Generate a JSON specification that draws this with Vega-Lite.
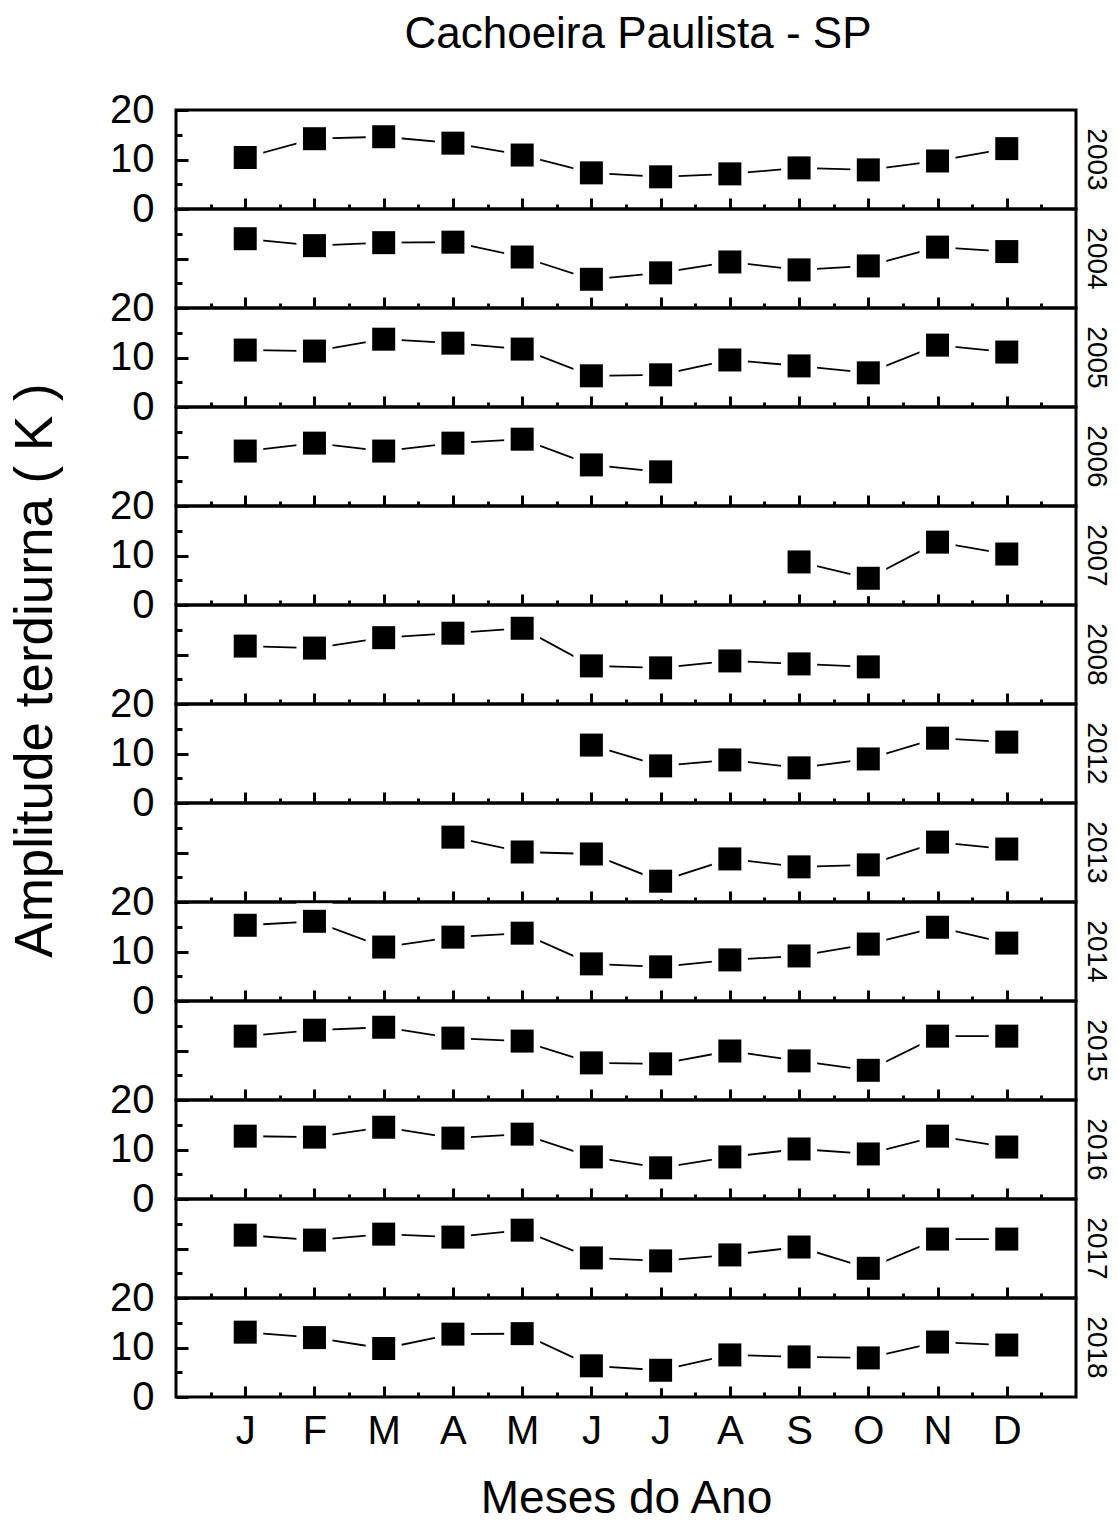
{
  "$schema": "https://vega.github.io/schema/vega-lite/v6.json",
  "padding": {"left": 7, "top": 12, "right": 5, "bottom": 0},
  "background": "white",
  "title": {"text": "Cachoeira Paulista - SP", "fontSize": 44, "fontWeight": "normal", "font": "Liberation Sans", "color": "black", "anchor": "middle", "frame": "group", "dx": 12, "offset": 32},
  "config": {
    "font": "Liberation Sans",
    "view": {"stroke": "black", "strokeWidth": 3},
    "axis": {"domain": false, "grid": false, "tickColor": "black", "labelColor": "black", "titleColor": "black", "zindex": 1, "labelFont": "Liberation Sans", "titleFont": "Liberation Sans", "titleFontWeight": "normal"},
    "title": {"fontWeight": "normal", "color": "black", "font": "Liberation Sans"}
  },
  "data": {"values": [
    {"year": "2003", "month": 1, "value": 10.4}, {"year": "2003", "month": 2, "value": 14.2}, {"year": "2003", "month": 3, "value": 14.6}, {"year": "2003", "month": 4, "value": 13.3}, {"year": "2003", "month": 5, "value": 10.9}, {"year": "2003", "month": 6, "value": 7.3}, {"year": "2003", "month": 7, "value": 6.5}, {"year": "2003", "month": 8, "value": 7.1}, {"year": "2003", "month": 9, "value": 8.3}, {"year": "2003", "month": 10, "value": 7.9}, {"year": "2003", "month": 11, "value": 9.7}, {"year": "2003", "month": 12, "value": 12.2},
    {"year": "2004", "month": 1, "value": 14.0}, {"year": "2004", "month": 2, "value": 12.6}, {"year": "2004", "month": 3, "value": 13.2}, {"year": "2004", "month": 4, "value": 13.3}, {"year": "2004", "month": 5, "value": 10.3}, {"year": "2004", "month": 6, "value": 5.8}, {"year": "2004", "month": 7, "value": 7.1}, {"year": "2004", "month": 8, "value": 9.3}, {"year": "2004", "month": 9, "value": 7.7}, {"year": "2004", "month": 10, "value": 8.5}, {"year": "2004", "month": 11, "value": 12.3}, {"year": "2004", "month": 12, "value": 11.4},
    {"year": "2005", "month": 1, "value": 11.5}, {"year": "2005", "month": 2, "value": 11.3}, {"year": "2005", "month": 3, "value": 13.7}, {"year": "2005", "month": 4, "value": 12.9}, {"year": "2005", "month": 5, "value": 11.7}, {"year": "2005", "month": 6, "value": 6.3}, {"year": "2005", "month": 7, "value": 6.5}, {"year": "2005", "month": 8, "value": 9.5}, {"year": "2005", "month": 9, "value": 8.3}, {"year": "2005", "month": 10, "value": 6.9}, {"year": "2005", "month": 11, "value": 12.5}, {"year": "2005", "month": 12, "value": 11.1},
    {"year": "2006", "month": 1, "value": 11.1}, {"year": "2006", "month": 2, "value": 12.7}, {"year": "2006", "month": 3, "value": 11.1}, {"year": "2006", "month": 4, "value": 12.7}, {"year": "2006", "month": 5, "value": 13.5}, {"year": "2006", "month": 6, "value": 8.3}, {"year": "2006", "month": 7, "value": 6.9},
    {"year": "2007", "month": 9, "value": 8.7}, {"year": "2007", "month": 10, "value": 5.4}, {"year": "2007", "month": 11, "value": 12.7}, {"year": "2007", "month": 12, "value": 10.3},
    {"year": "2008", "month": 1, "value": 11.7}, {"year": "2008", "month": 2, "value": 11.3}, {"year": "2008", "month": 3, "value": 13.4}, {"year": "2008", "month": 4, "value": 14.3}, {"year": "2008", "month": 5, "value": 15.3}, {"year": "2008", "month": 6, "value": 7.7}, {"year": "2008", "month": 7, "value": 7.3}, {"year": "2008", "month": 8, "value": 8.7}, {"year": "2008", "month": 9, "value": 8.1}, {"year": "2008", "month": 10, "value": 7.5},
    {"year": "2012", "month": 6, "value": 11.7}, {"year": "2012", "month": 7, "value": 7.5}, {"year": "2012", "month": 8, "value": 8.7}, {"year": "2012", "month": 9, "value": 7.1}, {"year": "2012", "month": 10, "value": 8.9}, {"year": "2012", "month": 11, "value": 13.1}, {"year": "2012", "month": 12, "value": 12.3},
    {"year": "2013", "month": 4, "value": 13.1}, {"year": "2013", "month": 5, "value": 10.1}, {"year": "2013", "month": 6, "value": 9.7}, {"year": "2013", "month": 7, "value": 4.2}, {"year": "2013", "month": 8, "value": 8.7}, {"year": "2013", "month": 9, "value": 7.1}, {"year": "2013", "month": 10, "value": 7.5}, {"year": "2013", "month": 11, "value": 12.1}, {"year": "2013", "month": 12, "value": 10.7},
    {"year": "2014", "month": 1, "value": 15.3}, {"year": "2014", "month": 2, "value": 16.1}, {"year": "2014", "month": 3, "value": 10.9}, {"year": "2014", "month": 4, "value": 12.9}, {"year": "2014", "month": 5, "value": 13.7}, {"year": "2014", "month": 6, "value": 7.5}, {"year": "2014", "month": 7, "value": 6.9}, {"year": "2014", "month": 8, "value": 8.3}, {"year": "2014", "month": 9, "value": 9.1}, {"year": "2014", "month": 10, "value": 11.5}, {"year": "2014", "month": 11, "value": 14.9}, {"year": "2014", "month": 12, "value": 11.7},
    {"year": "2015", "month": 1, "value": 12.9}, {"year": "2015", "month": 2, "value": 14.1}, {"year": "2015", "month": 3, "value": 14.7}, {"year": "2015", "month": 4, "value": 12.5}, {"year": "2015", "month": 5, "value": 11.9}, {"year": "2015", "month": 6, "value": 7.5}, {"year": "2015", "month": 7, "value": 7.3}, {"year": "2015", "month": 8, "value": 9.9}, {"year": "2015", "month": 9, "value": 7.9}, {"year": "2015", "month": 10, "value": 6.0}, {"year": "2015", "month": 11, "value": 12.9}, {"year": "2015", "month": 12, "value": 12.9},
    {"year": "2016", "month": 1, "value": 12.7}, {"year": "2016", "month": 2, "value": 12.5}, {"year": "2016", "month": 3, "value": 14.5}, {"year": "2016", "month": 4, "value": 12.3}, {"year": "2016", "month": 5, "value": 13.1}, {"year": "2016", "month": 6, "value": 8.5}, {"year": "2016", "month": 7, "value": 6.3}, {"year": "2016", "month": 8, "value": 8.5}, {"year": "2016", "month": 9, "value": 10.1}, {"year": "2016", "month": 10, "value": 9.1}, {"year": "2016", "month": 11, "value": 12.7}, {"year": "2016", "month": 12, "value": 10.5},
    {"year": "2017", "month": 1, "value": 12.7}, {"year": "2017", "month": 2, "value": 11.7}, {"year": "2017", "month": 3, "value": 12.9}, {"year": "2017", "month": 4, "value": 12.3}, {"year": "2017", "month": 5, "value": 13.7}, {"year": "2017", "month": 6, "value": 8.1}, {"year": "2017", "month": 7, "value": 7.5}, {"year": "2017", "month": 8, "value": 8.7}, {"year": "2017", "month": 9, "value": 10.3}, {"year": "2017", "month": 10, "value": 6.0}, {"year": "2017", "month": 11, "value": 11.9}, {"year": "2017", "month": 12, "value": 11.9},
    {"year": "2018", "month": 1, "value": 13.1}, {"year": "2018", "month": 2, "value": 12.0}, {"year": "2018", "month": 3, "value": 9.8}, {"year": "2018", "month": 4, "value": 12.7}, {"year": "2018", "month": 5, "value": 12.8}, {"year": "2018", "month": 6, "value": 6.3}, {"year": "2018", "month": 7, "value": 5.4}, {"year": "2018", "month": 8, "value": 8.5}, {"year": "2018", "month": 9, "value": 8.1}, {"year": "2018", "month": 10, "value": 7.9}, {"year": "2018", "month": 11, "value": 11.1}, {"year": "2018", "month": 12, "value": 10.5}
  ]},
  "spacing": 0,
  "bounds": "flush",
  "vconcat": [
    {"width": 900, "height": 99, "title": {"text": "2003", "orient": "right", "fontSize": 28, "offset": 6, "anchor": "middle"}, "transform": [{"filter": "datum.year === '2003'"}],
     "encoding": {"x": {"field": "month", "type": "quantitative", "scale": {"domain": [0, 13], "nice": false}, "axis": {"title": null, "values": [0.5, 1, 1.5, 2, 2.5, 3, 3.5, 4, 4.5, 5, 5.5, 6, 6.5, 7, 7.5, 8, 8.5, 9, 9.5, 10, 10.5, 11, 11.5, 12, 12.5], "labels": false, "tickSize": {"condition": {"test": "datum.value % 1 === 0", "value": -11}, "value": -5}, "tickWidth": 3}},
                  "y": {"field": "value", "type": "quantitative", "scale": {"domain": [0, 20], "nice": false}, "axis": {"title": null, "values": [0, 5, 10, 15, 20], "tickSize": {"condition": {"test": "datum.value % 10 === 0", "value": -12}, "value": -6}, "tickWidth": 3, "labels": true, "labelExpr": "datum.value % 10 === 0 ? datum.label : ''", "labelFontSize": 40, "labelPadding": 34, "labelFlush": false, "labelBound": false, "labelOverlap": false}}},
     "layer": [{"mark": {"type": "line", "color": "black", "strokeWidth": 1.8}}, {"mark": {"type": "square", "color": "white", "size": 1296, "opacity": 1}}, {"mark": {"type": "square", "color": "black", "size": 529, "opacity": 1}}]},
    {"width": 900, "height": 99, "title": {"text": "2004", "orient": "right", "fontSize": 28, "offset": 6, "anchor": "middle"}, "transform": [{"filter": "datum.year === '2004'"}],
     "encoding": {"x": {"field": "month", "type": "quantitative", "scale": {"domain": [0, 13], "nice": false}, "axis": {"title": null, "values": [0.5, 1, 1.5, 2, 2.5, 3, 3.5, 4, 4.5, 5, 5.5, 6, 6.5, 7, 7.5, 8, 8.5, 9, 9.5, 10, 10.5, 11, 11.5, 12, 12.5], "labels": false, "tickSize": {"condition": {"test": "datum.value % 1 === 0", "value": -11}, "value": -5}, "tickWidth": 3}},
                  "y": {"field": "value", "type": "quantitative", "scale": {"domain": [0, 20], "nice": false}, "axis": {"title": null, "values": [0, 5, 10, 15, 20], "tickSize": {"condition": {"test": "datum.value % 10 === 0", "value": -12}, "value": -6}, "tickWidth": 3, "labels": false}}},
     "layer": [{"mark": {"type": "line", "color": "black", "strokeWidth": 1.8}}, {"mark": {"type": "square", "color": "white", "size": 1296, "opacity": 1}}, {"mark": {"type": "square", "color": "black", "size": 529, "opacity": 1}}]},
    {"width": 900, "height": 99, "title": {"text": "2005", "orient": "right", "fontSize": 28, "offset": 6, "anchor": "middle"}, "transform": [{"filter": "datum.year === '2005'"}],
     "encoding": {"x": {"field": "month", "type": "quantitative", "scale": {"domain": [0, 13], "nice": false}, "axis": {"title": null, "values": [0.5, 1, 1.5, 2, 2.5, 3, 3.5, 4, 4.5, 5, 5.5, 6, 6.5, 7, 7.5, 8, 8.5, 9, 9.5, 10, 10.5, 11, 11.5, 12, 12.5], "labels": false, "tickSize": {"condition": {"test": "datum.value % 1 === 0", "value": -11}, "value": -5}, "tickWidth": 3}},
                  "y": {"field": "value", "type": "quantitative", "scale": {"domain": [0, 20], "nice": false}, "axis": {"title": null, "values": [0, 5, 10, 15, 20], "tickSize": {"condition": {"test": "datum.value % 10 === 0", "value": -12}, "value": -6}, "tickWidth": 3, "labels": true, "labelExpr": "datum.value % 10 === 0 ? datum.label : ''", "labelFontSize": 40, "labelPadding": 34, "labelFlush": false, "labelBound": false, "labelOverlap": false}}},
     "layer": [{"mark": {"type": "line", "color": "black", "strokeWidth": 1.8}}, {"mark": {"type": "square", "color": "white", "size": 1296, "opacity": 1}}, {"mark": {"type": "square", "color": "black", "size": 529, "opacity": 1}}]},
    {"width": 900, "height": 99, "title": {"text": "2006", "orient": "right", "fontSize": 28, "offset": 6, "anchor": "middle"}, "transform": [{"filter": "datum.year === '2006'"}],
     "encoding": {"x": {"field": "month", "type": "quantitative", "scale": {"domain": [0, 13], "nice": false}, "axis": {"title": null, "values": [0.5, 1, 1.5, 2, 2.5, 3, 3.5, 4, 4.5, 5, 5.5, 6, 6.5, 7, 7.5, 8, 8.5, 9, 9.5, 10, 10.5, 11, 11.5, 12, 12.5], "labels": false, "tickSize": {"condition": {"test": "datum.value % 1 === 0", "value": -11}, "value": -5}, "tickWidth": 3}},
                  "y": {"field": "value", "type": "quantitative", "scale": {"domain": [0, 20], "nice": false}, "axis": {"title": null, "values": [0, 5, 10, 15, 20], "tickSize": {"condition": {"test": "datum.value % 10 === 0", "value": -12}, "value": -6}, "tickWidth": 3, "labels": false}}},
     "layer": [{"mark": {"type": "line", "color": "black", "strokeWidth": 1.8}}, {"mark": {"type": "square", "color": "white", "size": 1296, "opacity": 1}}, {"mark": {"type": "square", "color": "black", "size": 529, "opacity": 1}}]},
    {"width": 900, "height": 99, "title": {"text": "2007", "orient": "right", "fontSize": 28, "offset": 6, "anchor": "middle"}, "transform": [{"filter": "datum.year === '2007'"}],
     "encoding": {"x": {"field": "month", "type": "quantitative", "scale": {"domain": [0, 13], "nice": false}, "axis": {"title": null, "values": [0.5, 1, 1.5, 2, 2.5, 3, 3.5, 4, 4.5, 5, 5.5, 6, 6.5, 7, 7.5, 8, 8.5, 9, 9.5, 10, 10.5, 11, 11.5, 12, 12.5], "labels": false, "tickSize": {"condition": {"test": "datum.value % 1 === 0", "value": -11}, "value": -5}, "tickWidth": 3}},
                  "y": {"field": "value", "type": "quantitative", "scale": {"domain": [0, 20], "nice": false}, "axis": {"title": null, "values": [0, 5, 10, 15, 20], "tickSize": {"condition": {"test": "datum.value % 10 === 0", "value": -12}, "value": -6}, "tickWidth": 3, "labels": true, "labelExpr": "datum.value % 10 === 0 ? datum.label : ''", "labelFontSize": 40, "labelPadding": 34, "labelFlush": false, "labelBound": false, "labelOverlap": false}}},
     "layer": [{"mark": {"type": "line", "color": "black", "strokeWidth": 1.8}}, {"mark": {"type": "square", "color": "white", "size": 1296, "opacity": 1}}, {"mark": {"type": "square", "color": "black", "size": 529, "opacity": 1}}]},
    {"width": 900, "height": 99, "title": {"text": "2008", "orient": "right", "fontSize": 28, "offset": 6, "anchor": "middle"}, "transform": [{"filter": "datum.year === '2008'"}],
     "encoding": {"x": {"field": "month", "type": "quantitative", "scale": {"domain": [0, 13], "nice": false}, "axis": {"title": null, "values": [0.5, 1, 1.5, 2, 2.5, 3, 3.5, 4, 4.5, 5, 5.5, 6, 6.5, 7, 7.5, 8, 8.5, 9, 9.5, 10, 10.5, 11, 11.5, 12, 12.5], "labels": false, "tickSize": {"condition": {"test": "datum.value % 1 === 0", "value": -11}, "value": -5}, "tickWidth": 3}},
                  "y": {"field": "value", "type": "quantitative", "scale": {"domain": [0, 20], "nice": false}, "axis": {"title": "Amplitude terdiurna ( K )", "titleFontSize": 53, "titleX": -125, "titleY": 65, "titleAngle": -90, "titleAlign": "center", "titleBaseline": "alphabetic", "values": [0, 5, 10, 15, 20], "tickSize": {"condition": {"test": "datum.value % 10 === 0", "value": -12}, "value": -6}, "tickWidth": 3, "labels": false}}},
     "layer": [{"mark": {"type": "line", "color": "black", "strokeWidth": 1.8}}, {"mark": {"type": "square", "color": "white", "size": 1296, "opacity": 1}}, {"mark": {"type": "square", "color": "black", "size": 529, "opacity": 1}}]},
    {"width": 900, "height": 99, "title": {"text": "2012", "orient": "right", "fontSize": 28, "offset": 6, "anchor": "middle"}, "transform": [{"filter": "datum.year === '2012'"}],
     "encoding": {"x": {"field": "month", "type": "quantitative", "scale": {"domain": [0, 13], "nice": false}, "axis": {"title": null, "values": [0.5, 1, 1.5, 2, 2.5, 3, 3.5, 4, 4.5, 5, 5.5, 6, 6.5, 7, 7.5, 8, 8.5, 9, 9.5, 10, 10.5, 11, 11.5, 12, 12.5], "labels": false, "tickSize": {"condition": {"test": "datum.value % 1 === 0", "value": -11}, "value": -5}, "tickWidth": 3}},
                  "y": {"field": "value", "type": "quantitative", "scale": {"domain": [0, 20], "nice": false}, "axis": {"title": null, "values": [0, 5, 10, 15, 20], "tickSize": {"condition": {"test": "datum.value % 10 === 0", "value": -12}, "value": -6}, "tickWidth": 3, "labels": true, "labelExpr": "datum.value % 10 === 0 ? datum.label : ''", "labelFontSize": 40, "labelPadding": 34, "labelFlush": false, "labelBound": false, "labelOverlap": false}}},
     "layer": [{"mark": {"type": "line", "color": "black", "strokeWidth": 1.8}}, {"mark": {"type": "square", "color": "white", "size": 1296, "opacity": 1}}, {"mark": {"type": "square", "color": "black", "size": 529, "opacity": 1}}]},
    {"width": 900, "height": 99, "title": {"text": "2013", "orient": "right", "fontSize": 28, "offset": 6, "anchor": "middle"}, "transform": [{"filter": "datum.year === '2013'"}],
     "encoding": {"x": {"field": "month", "type": "quantitative", "scale": {"domain": [0, 13], "nice": false}, "axis": {"title": null, "values": [0.5, 1, 1.5, 2, 2.5, 3, 3.5, 4, 4.5, 5, 5.5, 6, 6.5, 7, 7.5, 8, 8.5, 9, 9.5, 10, 10.5, 11, 11.5, 12, 12.5], "labels": false, "tickSize": {"condition": {"test": "datum.value % 1 === 0", "value": -11}, "value": -5}, "tickWidth": 3}},
                  "y": {"field": "value", "type": "quantitative", "scale": {"domain": [0, 20], "nice": false}, "axis": {"title": null, "values": [0, 5, 10, 15, 20], "tickSize": {"condition": {"test": "datum.value % 10 === 0", "value": -12}, "value": -6}, "tickWidth": 3, "labels": false}}},
     "layer": [{"mark": {"type": "line", "color": "black", "strokeWidth": 1.8}}, {"mark": {"type": "square", "color": "white", "size": 1296, "opacity": 1}}, {"mark": {"type": "square", "color": "black", "size": 529, "opacity": 1}}]},
    {"width": 900, "height": 99, "title": {"text": "2014", "orient": "right", "fontSize": 28, "offset": 6, "anchor": "middle"}, "transform": [{"filter": "datum.year === '2014'"}],
     "encoding": {"x": {"field": "month", "type": "quantitative", "scale": {"domain": [0, 13], "nice": false}, "axis": {"title": null, "values": [0.5, 1, 1.5, 2, 2.5, 3, 3.5, 4, 4.5, 5, 5.5, 6, 6.5, 7, 7.5, 8, 8.5, 9, 9.5, 10, 10.5, 11, 11.5, 12, 12.5], "labels": false, "tickSize": {"condition": {"test": "datum.value % 1 === 0", "value": -11}, "value": -5}, "tickWidth": 3}},
                  "y": {"field": "value", "type": "quantitative", "scale": {"domain": [0, 20], "nice": false}, "axis": {"title": null, "values": [0, 5, 10, 15, 20], "tickSize": {"condition": {"test": "datum.value % 10 === 0", "value": -12}, "value": -6}, "tickWidth": 3, "labels": true, "labelExpr": "datum.value % 10 === 0 ? datum.label : ''", "labelFontSize": 40, "labelPadding": 34, "labelFlush": false, "labelBound": false, "labelOverlap": false}}},
     "layer": [{"mark": {"type": "line", "color": "black", "strokeWidth": 1.8}}, {"mark": {"type": "square", "color": "white", "size": 1296, "opacity": 1}}, {"mark": {"type": "square", "color": "black", "size": 529, "opacity": 1}}]},
    {"width": 900, "height": 99, "title": {"text": "2015", "orient": "right", "fontSize": 28, "offset": 6, "anchor": "middle"}, "transform": [{"filter": "datum.year === '2015'"}],
     "encoding": {"x": {"field": "month", "type": "quantitative", "scale": {"domain": [0, 13], "nice": false}, "axis": {"title": null, "values": [0.5, 1, 1.5, 2, 2.5, 3, 3.5, 4, 4.5, 5, 5.5, 6, 6.5, 7, 7.5, 8, 8.5, 9, 9.5, 10, 10.5, 11, 11.5, 12, 12.5], "labels": false, "tickSize": {"condition": {"test": "datum.value % 1 === 0", "value": -11}, "value": -5}, "tickWidth": 3}},
                  "y": {"field": "value", "type": "quantitative", "scale": {"domain": [0, 20], "nice": false}, "axis": {"title": null, "values": [0, 5, 10, 15, 20], "tickSize": {"condition": {"test": "datum.value % 10 === 0", "value": -12}, "value": -6}, "tickWidth": 3, "labels": false}}},
     "layer": [{"mark": {"type": "line", "color": "black", "strokeWidth": 1.8}}, {"mark": {"type": "square", "color": "white", "size": 1296, "opacity": 1}}, {"mark": {"type": "square", "color": "black", "size": 529, "opacity": 1}}]},
    {"width": 900, "height": 99, "title": {"text": "2016", "orient": "right", "fontSize": 28, "offset": 6, "anchor": "middle"}, "transform": [{"filter": "datum.year === '2016'"}],
     "encoding": {"x": {"field": "month", "type": "quantitative", "scale": {"domain": [0, 13], "nice": false}, "axis": {"title": null, "values": [0.5, 1, 1.5, 2, 2.5, 3, 3.5, 4, 4.5, 5, 5.5, 6, 6.5, 7, 7.5, 8, 8.5, 9, 9.5, 10, 10.5, 11, 11.5, 12, 12.5], "labels": false, "tickSize": {"condition": {"test": "datum.value % 1 === 0", "value": -11}, "value": -5}, "tickWidth": 3}},
                  "y": {"field": "value", "type": "quantitative", "scale": {"domain": [0, 20], "nice": false}, "axis": {"title": null, "values": [0, 5, 10, 15, 20], "tickSize": {"condition": {"test": "datum.value % 10 === 0", "value": -12}, "value": -6}, "tickWidth": 3, "labels": true, "labelExpr": "datum.value % 10 === 0 ? datum.label : ''", "labelFontSize": 40, "labelPadding": 34, "labelFlush": false, "labelBound": false, "labelOverlap": false}}},
     "layer": [{"mark": {"type": "line", "color": "black", "strokeWidth": 1.8}}, {"mark": {"type": "square", "color": "white", "size": 1296, "opacity": 1}}, {"mark": {"type": "square", "color": "black", "size": 529, "opacity": 1}}]},
    {"width": 900, "height": 99, "title": {"text": "2017", "orient": "right", "fontSize": 28, "offset": 6, "anchor": "middle"}, "transform": [{"filter": "datum.year === '2017'"}],
     "encoding": {"x": {"field": "month", "type": "quantitative", "scale": {"domain": [0, 13], "nice": false}, "axis": {"title": null, "values": [0.5, 1, 1.5, 2, 2.5, 3, 3.5, 4, 4.5, 5, 5.5, 6, 6.5, 7, 7.5, 8, 8.5, 9, 9.5, 10, 10.5, 11, 11.5, 12, 12.5], "labels": false, "tickSize": {"condition": {"test": "datum.value % 1 === 0", "value": -11}, "value": -5}, "tickWidth": 3}},
                  "y": {"field": "value", "type": "quantitative", "scale": {"domain": [0, 20], "nice": false}, "axis": {"title": null, "values": [0, 5, 10, 15, 20], "tickSize": {"condition": {"test": "datum.value % 10 === 0", "value": -12}, "value": -6}, "tickWidth": 3, "labels": false}}},
     "layer": [{"mark": {"type": "line", "color": "black", "strokeWidth": 1.8}}, {"mark": {"type": "square", "color": "white", "size": 1296, "opacity": 1}}, {"mark": {"type": "square", "color": "black", "size": 529, "opacity": 1}}]},
    {"width": 900, "height": 99, "title": {"text": "2018", "orient": "right", "fontSize": 28, "offset": 6, "anchor": "middle"}, "transform": [{"filter": "datum.year === '2018'"}],
     "encoding": {"x": {"field": "month", "type": "quantitative", "scale": {"domain": [0, 13], "nice": false}, "axis": {"title": "Meses do Ano", "titleFontSize": 46, "titlePadding": 19, "values": [0.5, 1, 1.5, 2, 2.5, 3, 3.5, 4, 4.5, 5, 5.5, 6, 6.5, 7, 7.5, 8, 8.5, 9, 9.5, 10, 10.5, 11, 11.5, 12, 12.5], "labels": true, "labelExpr": "datum.value % 1 === 0 ? ['', 'J', 'F', 'M', 'A', 'M', 'J', 'J', 'A', 'S', 'O', 'N', 'D'][datum.value] : ''", "labelFontSize": 40, "labelPadding": 25, "labelOverlap": false, "labelFlush": false, "labelBound": false, "tickSize": {"condition": {"test": "datum.value % 1 === 0", "value": -11}, "value": -5}, "tickWidth": 3}},
                  "y": {"field": "value", "type": "quantitative", "scale": {"domain": [0, 20], "nice": false}, "axis": {"title": null, "values": [0, 5, 10, 15, 20], "tickSize": {"condition": {"test": "datum.value % 10 === 0", "value": -12}, "value": -6}, "tickWidth": 3, "labels": true, "labelExpr": "datum.value % 10 === 0 ? datum.label : ''", "labelFontSize": 40, "labelPadding": 34, "labelFlush": false, "labelBound": false, "labelOverlap": false}}},
     "layer": [{"mark": {"type": "line", "color": "black", "strokeWidth": 1.8}}, {"mark": {"type": "square", "color": "white", "size": 1296, "opacity": 1}}, {"mark": {"type": "square", "color": "black", "size": 529, "opacity": 1}}]}
  ]
}
